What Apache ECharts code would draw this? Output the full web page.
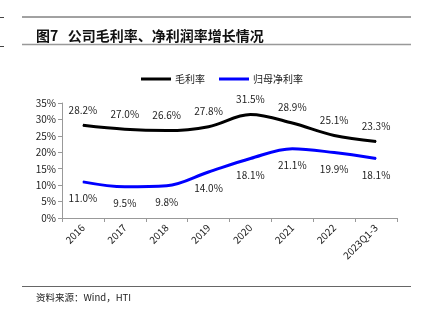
<!DOCTYPE html>
<html><head><meta charset="utf-8">
<script src="https://cdn.jsdelivr.net/npm/echarts@6/dist/echarts.min.js"></script>
<style>html,body{margin:0;padding:0;background:#fff}#c{width:421px;height:323px}</style>
</head><body><div id="c"></div>
<script>
var categories = ['2016','2017','2018','2019','2020','2021','2022','2023Q1-3'];
var grossMargin = [28.2, 27.0, 26.6, 27.8, 31.5, 28.9, 25.1, 23.3];
var netMargin = [11.0, 9.5, 9.8, 14.0, 18.1, 21.1, 19.9, 18.1];
var yTicks = [0, 5, 10, 15, 20, 25, 30, 35];
var seriesNames = ['毛利率', '归母净利率'];
var font = '"Noto Sans CJK SC", "Liberation Sans", sans-serif';

var chart = echarts.init(document.getElementById('c'), null, {renderer: 'canvas'});
chart.setOption({
  animation: false,
  backgroundColor: '#fff',
  title: [{
    text: '图7   公司毛利率、净利润率增长情况',
    left: 31, top: 24,
    textStyle: {fontSize: 14, fontWeight: 'bold', color: '#111', fontFamily: font}
  }, {
    text: '资料来源：Wind，HTI',
    left: 31, top: 288,
    textStyle: {fontSize: 9.5, fontWeight: 'normal', color: '#222', fontFamily: font}
  }],
  graphic: [
    {type: 'line', shape: {x1: 22, y1: 17, x2: 411, y2: 17}, style: {stroke: '#444', lineWidth: 1}},
    {type: 'line', shape: {x1: 22, y1: 44.5, x2: 411, y2: 44.5}, style: {stroke: '#999', lineWidth: 1.5}},
    {type: 'line', shape: {x1: 22, y1: 286.5, x2: 411, y2: 286.5}, style: {stroke: '#666', lineWidth: 1}},
    {type: 'line', shape: {x1: 0, y1: 17.5, x2: 4, y2: 17.5}, style: {stroke: '#444', lineWidth: 1}},
    {type: 'line', shape: {x1: 0, y1: 46.5, x2: 4, y2: 46.5}, style: {stroke: '#444', lineWidth: 1}}
  ],
  legend: {
    top: 69, left: 136,
    itemWidth: 30, itemHeight: 3, itemGap: 14,
    icon: 'rect',
    textStyle: {fontSize: 10, color: '#222', fontFamily: font, padding: [0, 0, 0, -1]},
    data: seriesNames
  },
  grid: {left: 62, right: 24, top: 103, bottom: 105},
  xAxis: {
    type: 'category',
    data: categories,
    boundaryGap: true,
    axisLine: {lineStyle: {color: '#999'}},
    axisTick: {show: true, length: 4, alignWithLabel: false, lineStyle: {color: '#999'}},
    axisLabel: {rotate: 45, fontSize: 10, color: '#222', fontFamily: font, margin: 8, interval: 0}
  },
  yAxis: {
    type: 'value',
    min: 0, max: 35, interval: 5,
    axisLine: {show: true, lineStyle: {color: '#999'}},
    axisTick: {show: true, length: 4, lineStyle: {color: '#999'}},
    splitLine: {show: false},
    axisLabel: {fontSize: 10, color: '#222', fontFamily: font, margin: 6,
      formatter: function (v) { return yTicks.indexOf(v) >= 0 ? v + '%' : ''; }}
  },
  series: [{
    name: seriesNames[0],
    type: 'line',
    data: grossMargin,
    smooth: 0.35,
    symbol: 'circle',
    symbolSize: 1,
    showSymbol: true,
    lineStyle: {color: '#000', width: 3},
    itemStyle: {color: '#000'},
    label: {show: true, position: 'top', distance: 10, fontSize: 10, color: '#222', fontFamily: font,
      formatter: function (p) { return p.value.toFixed(1) + '%'; }}
  }, {
    name: seriesNames[1],
    type: 'line',
    data: netMargin,
    smooth: 0.35,
    symbol: 'circle',
    symbolSize: 1,
    showSymbol: true,
    lineStyle: {color: '#0000ff', width: 3},
    itemStyle: {color: '#0000ff'},
    label: {show: true, position: 'bottom', distance: 11, fontSize: 10, color: '#222', fontFamily: font,
      formatter: function (p) { return p.value.toFixed(1) + '%'; }}
  }]
});
</script></body></html>
